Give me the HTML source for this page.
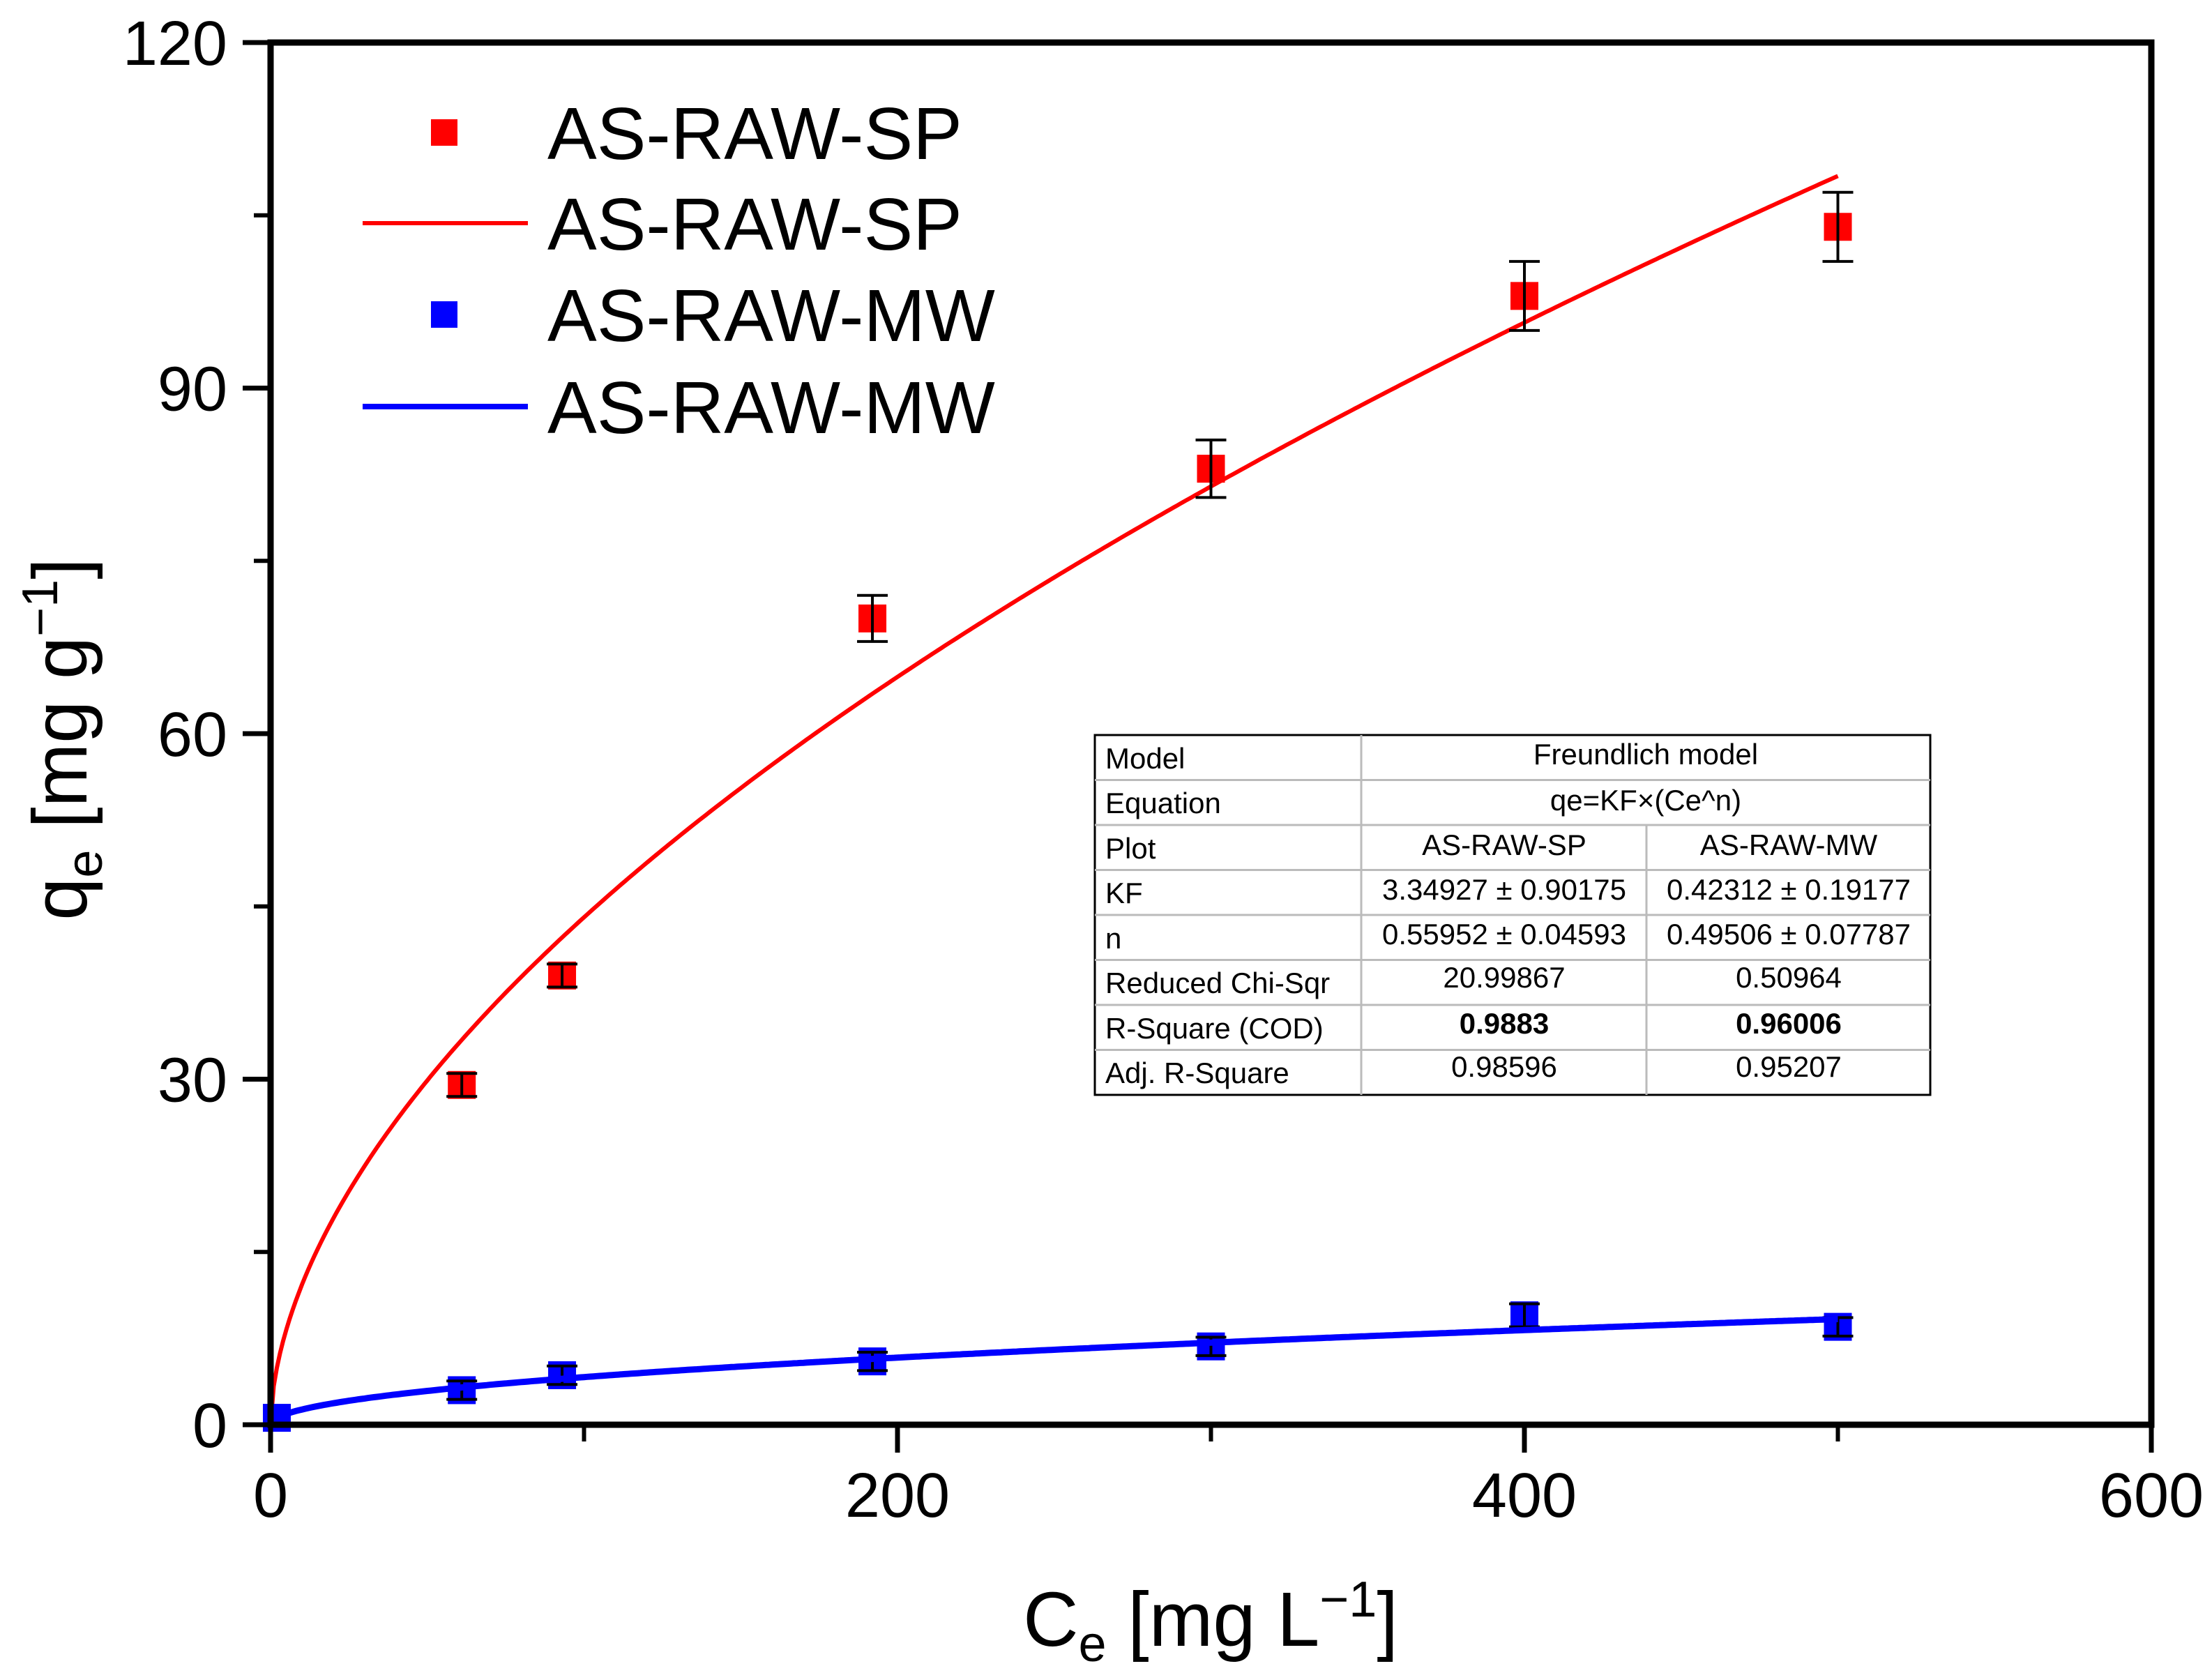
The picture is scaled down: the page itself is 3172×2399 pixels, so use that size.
<!DOCTYPE html>
<html><head><meta charset="utf-8"><style>
html,body{margin:0;padding:0;background:#fff;}
svg{display:block;font-family:"Liberation Sans",Arial,sans-serif;}
</style></head><body>
<svg id="chart" width="3172" height="2399" viewBox="0 0 3172 2399" xmlns="http://www.w3.org/2000/svg">
<rect width="3172" height="2399" fill="#fff"/>
<g id="marks"></g>
<g id="axes"></g>
<g>
  <rect x="618" y="171" width="38" height="38" fill="#ff0000"/>
  <text x="785" y="228" font-size="106">AS-RAW-SP</text>
  <line x1="520" y1="320" x2="757" y2="320" stroke="#ff0000" stroke-width="6"/>
  <text x="785" y="358" font-size="106">AS-RAW-SP</text>
  <rect x="618" y="432" width="38" height="38" fill="#0000ff"/>
  <text x="785" y="489" font-size="106">AS-RAW-MW</text>
  <line x1="520" y1="583" x2="757" y2="583" stroke="#0000ff" stroke-width="8"/>
  <text x="785" y="621" font-size="106">AS-RAW-MW</text>
</g>
<g font-size="42" fill="#000">
  <rect x="1570" y="1054" width="1198" height="516" fill="#fff" stroke="#000" stroke-width="3"/>
  <g stroke="#bbb" stroke-width="3">
    <line x1="1952" y1="1054" x2="1952" y2="1570"/>
    <line x1="2361" y1="1183" x2="2361" y2="1570"/>
    <line x1="1570" y1="1118.5" x2="2768" y2="1118.5"/>
    <line x1="1570" y1="1183" x2="2768" y2="1183"/>
    <line x1="1570" y1="1247.5" x2="2768" y2="1247.5"/>
    <line x1="1570" y1="1312" x2="2768" y2="1312"/>
    <line x1="1570" y1="1376.5" x2="2768" y2="1376.5"/>
    <line x1="1570" y1="1441" x2="2768" y2="1441"/>
    <line x1="1570" y1="1505.5" x2="2768" y2="1505.5"/>
  </g>
  <text x="1585" y="1102">Model</text>
  <text x="2360" y="1096" text-anchor="middle">Freundlich model</text>
  <text x="1585" y="1166">Equation</text>
  <text x="2360" y="1162" text-anchor="middle">qe=KF×(Ce^n)</text>
  <text x="1585" y="1231">Plot</text>
  <text x="2157" y="1226" text-anchor="middle">AS-RAW-SP</text>
  <text x="2565" y="1226" text-anchor="middle">AS-RAW-MW</text>
  <text x="1585" y="1295">KF</text>
  <text x="2157" y="1290" text-anchor="middle">3.34927 ± 0.90175</text>
  <text x="2565" y="1290" text-anchor="middle">0.42312 ± 0.19177</text>
  <text x="1585" y="1360">n</text>
  <text x="2157" y="1354" text-anchor="middle">0.55952 ± 0.04593</text>
  <text x="2565" y="1354" text-anchor="middle">0.49506 ± 0.07787</text>
  <text x="1585" y="1424">Reduced Chi-Sqr</text>
  <text x="2157" y="1416" text-anchor="middle">20.99867</text>
  <text x="2565" y="1416" text-anchor="middle">0.50964</text>
  <text x="1585" y="1489">R-Square (COD)</text>
  <text x="2157" y="1482" text-anchor="middle" font-weight="bold">0.9883</text>
  <text x="2565" y="1482" text-anchor="middle" font-weight="bold">0.96006</text>
  <text x="1585" y="1553">Adj. R-Square</text>
  <text x="2157" y="1544" text-anchor="middle">0.98596</text>
  <text x="2565" y="1544" text-anchor="middle">0.95207</text>
</g>
</svg>
<script>
const xCats = [61, 93, 192, 300, 400, 500];
const spValues = [29.5, 39, 70, 83, 98, 104];
const spErrors = [1, 1, 2, 2.5, 3, 3];
const mwXs = [2, 61, 93, 192, 300, 400, 500];
const mwValues = [0.6, 3, 4.3, 5.5, 6.8, 9.5, 8.5];
const mwErrors = [0, 0.8, 0.8, 0.8, 0.8, 1, 0.8];
const spKF = 3.34927, spN = 0.55952;
const mwKF = 0.42312, mwN = 0.49506;
const xTicks = [0, 200, 400, 600];
const xMinorTicks = [100, 300, 500];
const yTicks = [0, 30, 60, 90, 120];
const yMinorTicks = [15, 45, 75, 105];

const NS = "http://www.w3.org/2000/svg";
const L = 388, R = 3085, T = 61, B = 2043;
const sx = v => L + v / 600 * (R - L);
const sy = v => B - v / 120 * (B - T);
const marks = document.getElementById('marks');
const axes = document.getElementById('axes');
function mk(tag, attrs, parent) {
  const e = document.createElementNS(NS, tag);
  for (const k in attrs) e.setAttribute(k, attrs[k]);
  parent.appendChild(e);
  return e;
}
function curve(kf, n, color, w, name) {
  let d = '';
  for (let i = 0; i <= 500; i++) {
    const x = i;
    d += (i ? 'L' : 'M') + sx(x).toFixed(1) + ' ' + sy(kf * Math.pow(x, n)).toFixed(1);
  }
  const p = mk('path', {d: d, fill: 'none', stroke: color, 'stroke-width': w}, marks);
  
  
}
function points(xs, vals, errs, color, name) {
  xs.forEach((x, i) => {
    const cx = sx(x), cy = sy(vals[i]);
    const r = mk('rect', {x: cx - 20, y: cy - 20, width: 40, height: 40, fill: color}, marks);
    
    
    if (errs[i] > 0) {
      const y1 = sy(vals[i] + errs[i]), y2 = sy(vals[i] - errs[i]);
      const g = mk('g', {stroke: '#000', 'stroke-width': 4}, marks);
      
      
      mk('line', {x1: cx, y1: y1, x2: cx, y2: y2}, g);
      mk('line', {x1: cx - 22, y1: y1, x2: cx + 22, y2: y1}, g);
      mk('line', {x1: cx - 22, y1: y2, x2: cx + 22, y2: y2}, g);
    }
  });
}
curve(spKF, spN, '#ff0000', 6, 'sp-fit-line');
points(xCats, spValues, spErrors, '#ff0000', 'sp');
points(mwXs, mwValues, mwErrors, '#0000ff', 'mw');
curve(mwKF, mwN, '#0000ff', 9, 'mw-fit-line');

const frame = mk('rect', {x: L, y: T, width: R - L, height: B - T, fill: 'none', stroke: '#000', 'stroke-width': 9}, axes);


xTicks.forEach(v => {
  const t = mk('line', {x1: sx(v), y1: B, x2: sx(v), y2: B + 40, stroke: '#000', 'stroke-width': 7}, axes);
  
  
  const lb = mk('text', {x: sx(v), y: B + 132, 'font-size': 90, 'text-anchor': 'middle'}, axes);
  lb.textContent = v;
  
  
});
xMinorTicks.forEach(v => {
  const t = mk('line', {x1: sx(v), y1: B, x2: sx(v), y2: B + 24, stroke: '#000', 'stroke-width': 6}, axes);
  
  
});
yTicks.forEach(v => {
  const t = mk('line', {x1: L - 40, y1: sy(v), x2: L, y2: sy(v), stroke: '#000', 'stroke-width': 7}, axes);
  
  
  const lb = mk('text', {x: L - 62, y: sy(v) + 32, 'font-size': 90, 'text-anchor': 'end'}, axes);
  lb.textContent = v;
  
  
});
yMinorTicks.forEach(v => {
  const t = mk('line', {x1: L - 24, y1: sy(v), x2: L, y2: sy(v), stroke: '#000', 'stroke-width': 6}, axes);
  
  
});
const xt = mk('text', {x: 1736, y: 2360, 'font-size': 110, 'text-anchor': 'middle'}, axes);
xt.innerHTML = 'C<tspan font-size="72" dy="22">e</tspan><tspan dy="-22"> [mg L</tspan><tspan font-size="72" dy="-42">−1</tspan><tspan dy="42">]</tspan>';


const yt = mk('text', {x: 0, y: 0, 'font-size': 110, 'text-anchor': 'middle', transform: 'translate(124,1060) rotate(-90)'}, axes);
yt.innerHTML = 'q<tspan font-size="72" dy="22">e</tspan><tspan dy="-22"> [mg g</tspan><tspan font-size="72" dy="-42">−1</tspan><tspan dy="42">]</tspan>';


</script>
</body></html>
